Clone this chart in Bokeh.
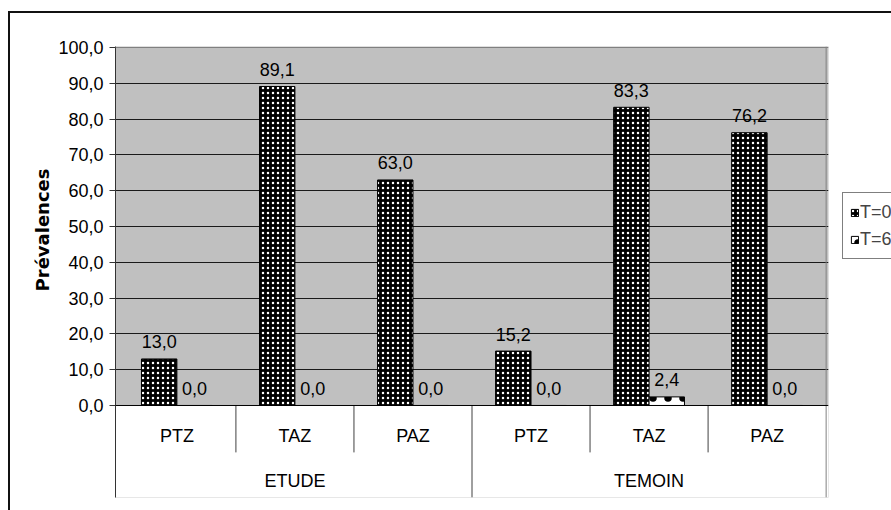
from bokeh.plotting import figure
from bokeh.models import (FactorRange, Range1d, ColumnDataSource, FixedTicker,
                          Legend, LegendItem, Title, BoxAnnotation, Span)
from bokeh.transform import dodge
from bokeh.core.properties import value
from bokeh.embed import file_html
from bokeh.resources import INLINE

# ---------------- data ----------------
groups = ["ETUDE", "ETUDE", "ETUDE", "TEMOIN", "TEMOIN", "TEMOIN"]
categories = ["PTZ", "TAZ", "PAZ", "PTZ", "TAZ", "PAZ"]
t0_values = [13.0, 89.1, 63.0, 15.2, 83.3, 76.2]
t6_values = [0.0, 0.0, 0.0, 0.0, 2.4, 0.0]
series_names = ["T=0", "T=6"]
y_ticks = [0, 10, 20, 30, 40, 50, 60, 70, 80, 90, 100]
y_title = "Prévalences"

FONT = "Liberation Sans"
FS = "18px"


def fmt(v):
    return f"{v:.1f}".replace(".", ",")


factors = list(zip(groups, categories))
unique_groups = list(dict.fromkeys(groups))

src = ColumnDataSource(dict(
    x=factors,
    cat=categories,
    t0=t0_values,
    t6=t6_values,
    t0_lbl=[fmt(v) for v in t0_values],
    t6_lbl=[fmt(v) for v in t6_values],
))

Y_BOTTOM = -25.7   # bottom of the category table (layout)
Y_TICKROW = -13.1  # end of the short separators (layout)
Y_TOP = 100.28

x_range = FactorRange(*factors, factor_padding=0, group_padding=0,
                      subgroup_padding=0, range_padding=0.02,
                      range_padding_units="absolute")
y_range = Range1d(Y_BOTTOM, Y_TOP)

border_css = """
:host { position: relative; }
:host::after {
  content: "";
  position: absolute;
  left: 8px; top: 11px; right: 0px; bottom: 0px;
  border-left: 2px solid #111;
  border-top: 2px solid #111;
  pointer-events: none;
}
"""

p = figure(frame_width=713, frame_height=451, x_range=x_range, y_range=y_range,
           output_backend="svg", toolbar_location=None,
           x_axis_location=None,
           min_border_left=115, min_border_right=63,
           min_border_top=46, min_border_bottom=13,
           background_fill_color="#C0C0C0", border_fill_color="white",
           stylesheets=[border_css])
p.outline_line_color = None

# white category table area below the zero line
p.add_layout(BoxAnnotation(top=0, fill_color="white", fill_alpha=1.0,
                           line_color=None, level="underlay"))

# y axis
p.yaxis.ticker = FixedTicker(ticks=y_ticks)
p.yaxis.major_label_overrides = {t: fmt(t) for t in y_ticks}
p.yaxis.major_label_text_font = FONT
p.yaxis.major_label_text_font_size = FS
p.yaxis.major_label_text_color = "black"
p.yaxis.major_tick_out = 6
p.yaxis.major_tick_in = 0
p.yaxis.minor_tick_out = 0
p.yaxis.minor_tick_in = 0
p.yaxis.major_label_standoff = 6
p.yaxis.axis_line_color = "#333333"
p.yaxis.major_tick_line_color = "#333333"

# y title (left side, raised to the centre of the value area)
p.add_layout(Title(text=y_title, align="right", offset=122,
                   text_font="DejaVu Sans", text_font_size=FS,
                   text_font_style="bold", text_color="black",
                   standoff=6), "left")

# grid
p.xgrid.visible = False
p.ygrid.ticker = FixedTicker(ticks=[t for t in y_ticks if 0 < t < 100])
p.ygrid.grid_line_color = "#1a1a1a"
p.ygrid.grid_line_width = 1

p.add_layout(Span(location=y_ticks[-1], dimension="width",
                  line_color="#808080", line_width=1))

# bars
r0 = p.vbar(x=dodge("x", -0.15, range=p.x_range), top="t0", width=0.3,
            source=src, fill_color="black", line_color="black",
            hatch_pattern="dot", hatch_color="white", hatch_scale=5,
            hatch_weight=1.8)
r6 = p.vbar(x=dodge("x", 0.15, range=p.x_range), top="t6", width=0.3,
            source=src, fill_color="white", line_color="black",
            hatch_pattern="dot", hatch_color="black", hatch_scale=15,
            hatch_weight=1.0)

# value labels
for col, off in (("t0", -0.15), ("t6", 0.15)):
    p.text(x=dodge("x", off, range=p.x_range), y=col, text=col + "_lbl",
           source=src, y_offset=-17, text_align="center",
           text_baseline="alphabetic", text_font=value(FONT),
           text_font_size=FS, text_color="black")

# zero line
p.add_layout(Span(location=0, dimension="width", line_color="black",
                  line_width=1))

# category table: separators
sx, sy1 = [], []
for i, f in enumerate(factors):
    if i == 0:
        continue
    sx.append(f + (-0.5,))
    sy1.append(Y_BOTTOM if f[0] != factors[i - 1][0] else Y_TICKROW)
sep_src = ColumnDataSource(dict(x=sx, y1=sy1))
p.segment(x0="x", x1="x", y0=0, y1="y1", source=sep_src,
          line_color="#404040", line_width=1)
edge_src = ColumnDataSource(dict(x=[factors[-1] + (0.5,)]))
p.segment(x0="x", x1="x", y0=Y_BOTTOM, y1=Y_TOP, source=edge_src,
          line_color="#808080", line_width=1)

# category labels
p.text(x="x", y=0, text="cat", source=src, y_offset=31,
       text_align="center", text_baseline="middle", text_font=value(FONT),
       text_font_size=FS, text_color="black")
grp_src = ColumnDataSource(dict(x=unique_groups, g=unique_groups))
p.text(x="x", y=0, text="g", source=grp_src, y_offset=76,
       text_align="center", text_baseline="middle", text_font=value(FONT),
       text_font_size=FS, text_color="black")

# legend (right panel, partly beyond the canvas as in the reference)
legend = Legend(items=[LegendItem(label=series_names[0], renderers=[r0]),
                       LegendItem(label=series_names[1], renderers=[r6])],
                location=(14, 238), orientation="vertical", margin=0,
                label_text_font=FONT, label_text_font_size=FS,
                glyph_width=9, glyph_height=9, label_height=24,
                label_standoff=1, spacing=3, padding=7,
                border_line_color="black", border_line_width=1,
                background_fill_color="white", background_fill_alpha=1.0)
p.add_layout(legend, "right")

open("out.html", "w").write(file_html(p, INLINE))
